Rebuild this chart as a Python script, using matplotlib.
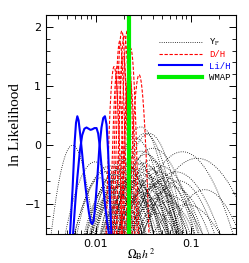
import numpy as np
import matplotlib
matplotlib.use('Agg')
import matplotlib.pyplot as plt
from matplotlib.ticker import FixedLocator, NullFormatter, MultipleLocator

plt.rcParams['mathtext.fontset'] = 'stix'

# Y_P curves: peak position, peak height, width (dex)
yp_x = [0.0057, 0.0098, 0.0112, 0.0125, 0.0135, 0.0142, 0.015, 0.016, 0.017, 0.018,
        0.0185, 0.019, 0.020, 0.021, 0.022, 0.023, 0.024, 0.025, 0.026, 0.027,
        0.0298, 0.029, 0.030, 0.031, 0.032, 0.033, 0.0364, 0.035, 0.037, 0.039,
        0.040, 0.042, 0.045, 0.048, 0.050, 0.055, 0.058, 0.065, 0.070, 0.0817,
        0.090, 0.117, 0.016, 0.022, 0.026, 0.034, 0.028, 0.024, 0.019, 0.044,
        0.021, 0.025, 0.027, 0.030, 0.033, 0.036, 0.038, 0.041, 0.046, 0.052,
        0.023, 0.029, 0.018, 0.031, 0.035, 0.043, 0.060, 0.075, 0.140, 0.020]
yp_y = [0.00, -0.28, -0.55, -0.45, -0.70, -0.35, -0.60, -0.50, -0.80, -0.40,
        -0.65, -0.25, -0.55, -0.90, -0.35, -0.70, -0.20, -0.50, 0.12, -0.85,
        0.31, -0.45, -0.10, -0.60, -0.30, 0.20, 0.20, -0.75, -0.40, -0.55,
        -0.05, -0.90, -0.65, -0.35, -0.80, -0.55, -0.95, -0.70, -0.45, -0.11,
        -1.00, -0.22, -1.05, -1.10, -0.95, -0.15, -0.65, -1.20, -0.85, -1.15,
        -0.45, -0.75, -0.30, -0.95, -0.50, -0.65, -0.25, -1.00, -0.45, -0.60,
        -0.60, -0.40, -0.70, -0.80, -0.35, -0.70, -0.85, -0.60, -0.75, -0.30]
yp_w = [0.13, 0.20, 0.18, 0.22, 0.20, 0.25, 0.18, 0.22, 0.20, 0.24,
        0.17, 0.21, 0.25, 0.18, 0.22, 0.20, 0.24, 0.19, 0.20, 0.23,
        0.18, 0.21, 0.24, 0.20, 0.22, 0.19, 0.20, 0.25, 0.23, 0.21,
        0.26, 0.22, 0.24, 0.27, 0.25, 0.28, 0.26, 0.30, 0.32, 0.32,
        0.35, 0.36, 0.15, 0.17, 0.16, 0.21, 0.19, 0.14, 0.16, 0.23,
        0.26, 0.28, 0.22, 0.25, 0.27, 0.24, 0.22, 0.29, 0.26, 0.27,
        0.30, 0.24, 0.28, 0.22, 0.20, 0.26, 0.30, 0.28, 0.30, 0.20]

# D/H curves
dh_x = [0.0156, 0.0170, 0.0179, 0.0188, 0.0200, 0.0215, 0.0233, 0.0286, 0.0195, 0.0225]
dh_y = [1.33, 1.35, 1.76, 1.93, 1.86, 1.94, 1.64, 1.19, 1.50, 1.20]
dh_w = [0.035, 0.032, 0.030, 0.030, 0.032, 0.030, 0.034, 0.045, 0.028, 0.036]

# Li/H curves
li1_x = [0.00536, 0.0057, 0.0060, 0.0062, 0.0064, 0.0066, 0.0069, 0.0072, 0.0076, 0.0080,
         0.0085, 0.0089, 0.0092, 0.0095, 0.0099, 0.0104, 0.0109, 0.0115, 0.0120, 0.0125,
         0.0130, 0.0135, 0.0140, 0.0146]
li1_y = [-1.50, -0.75, 0.05, 0.38, 0.49, 0.42, 0.15, -0.15, -0.55, -0.85,
         -1.15, -1.30, -1.33, -1.28, -1.00, -0.55, -0.05, 0.30, 0.46, 0.49,
         0.35, -0.10, -0.75, -1.50]
li2_x = [0.00577, 0.0061, 0.0064, 0.0068, 0.0072, 0.0076, 0.0080, 0.0084, 0.0088, 0.0092,
         0.0097, 0.0102, 0.0106, 0.0110, 0.0115, 0.0120, 0.0126, 0.0132, 0.0138]
li2_y = [-1.50, -0.95, -0.55, -0.10, 0.17, 0.28, 0.30, 0.28, 0.26, 0.27,
         0.29, 0.29, 0.20, 0.00, -0.35, -0.70, -1.05, -1.30, -1.50]

wmap = 0.0224

fig = plt.figure(figsize=(2.49, 2.63), dpi=100)
ax = fig.add_axes([0.185, 0.11, 0.763, 0.833])

lx = np.logspace(np.log10(0.003), np.log10(0.3), 600)
for i in range(len(yp_x)):
    y = yp_y[i] - (np.log10(lx) - np.log10(yp_x[i])) ** 2 / (2 * yp_w[i] ** 2)
    ax.plot(lx, y, ls=':', color='k', lw=0.6,
            label='Y$_{\\rm P}$' if i == 0 else None)

for i in range(len(dh_x)):
    y = dh_y[i] - (np.log10(lx) - np.log10(dh_x[i])) ** 2 / (2 * dh_w[i] ** 2)
    ax.plot(lx, y, ls=(0, (3, 1.5)), color='red', lw=0.8,
            label='D/H' if i == 0 else None)

ax.plot(li1_x, li1_y, color='blue', lw=1.5, label='Li/H')
ax.plot(li2_x, li2_y, color='blue', lw=1.5)

ax.axvline(wmap, color='#00ee00', lw=3, label='WMAP')

ax.set_xscale('log')
ax.set_xlim(0.003, 0.3)
ax.set_ylim(-1.5, 2.2)

ax.xaxis.set_major_locator(FixedLocator([0.01, 0.1]))
ax.set_xticklabels(['0.01', '0.1'])
ax.xaxis.set_minor_locator(FixedLocator(
    [k * 10.0 ** e for e in (-3, -2, -1) for k in range(2, 10)]))
ax.xaxis.set_minor_formatter(NullFormatter())
ax.yaxis.set_major_locator(MultipleLocator(1))
ax.yaxis.set_minor_locator(MultipleLocator(0.2))

ax.tick_params(which='both', direction='in', top=True, right=True, labelsize=8)
ax.tick_params(which='major', length=5, width=0.7)
ax.tick_params(which='minor', length=3, width=0.6)
for s in ax.spines.values():
    s.set_linewidth(0.8)

ax.set_ylabel('ln Likelihood', family='Liberation Serif', fontsize=11, labelpad=2)
ax.set_xlabel(r'$\Omega_{\rm B} h^2$', fontsize=8.5)
ax.xaxis.set_label_coords(0.5, -0.09)
ax.xaxis.label.set_va('center')

leg = ax.legend(loc='upper right', frameon=False, prop={'family': 'Liberation Mono', 'size': 6.5},
                handlelength=4.8, labelspacing=0.25, borderaxespad=0.2,
                bbox_to_anchor=(1.0, 0.925))
for txt, c in zip(leg.get_texts(), ['black', 'red', 'blue', 'black']):
    txt.set_color(c)

fig.savefig('out.png', dpi=100)
